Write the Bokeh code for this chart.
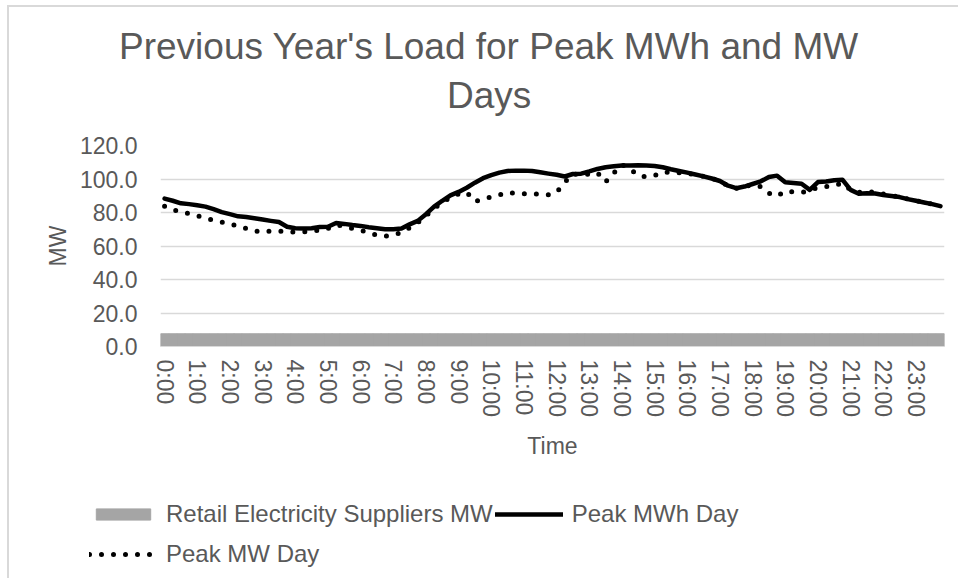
from bokeh.plotting import figure
from bokeh.models import (ColumnDataSource, Legend, LegendItem, Title, FixedTicker,
                          Range1d, PrintfTickFormatter, LinearAxis)
from bokeh.embed import file_html
from bokeh.resources import INLINE

# ---------------- data ----------------
hour_labels = ["0:00", "1:00", "2:00", "3:00", "4:00", "5:00", "6:00", "7:00",
               "8:00", "9:00", "10:00", "11:00", "12:00", "13:00", "14:00", "15:00",
               "16:00", "17:00", "18:00", "19:00", "20:00", "21:00", "22:00", "23:00"]
intervals_per_hour = 4  # 15-minute intervals

retail_mw = [7.6, 7.6, 7.6, 7.6, 7.6, 7.6, 7.6, 7.6, 7.6, 7.6, 7.6, 7.6,
             7.6, 7.6, 7.6, 7.6, 7.6, 7.6, 7.6, 7.6, 7.6, 7.6, 7.6, 7.6,
             7.6, 7.6, 7.6, 7.6, 7.6, 7.6, 7.6, 7.6, 7.6, 7.6, 7.6, 7.6,
             7.6, 7.6, 7.6, 7.6, 7.6, 7.6, 7.6, 7.6, 7.6, 7.6, 7.6, 7.6,
             7.6, 7.6, 7.6, 7.6, 7.6, 7.6, 7.6, 7.6, 7.6, 7.6, 7.6, 7.6,
             7.6, 7.6, 7.6, 7.6, 7.6, 7.6, 7.6, 7.6, 7.6, 7.6, 7.6, 7.6,
             7.6, 7.6, 7.6, 7.6, 7.6, 7.6, 7.6, 7.6, 7.6, 7.6, 7.6, 7.6,
             7.6, 7.6, 7.6, 7.6, 7.6, 7.6, 7.6, 7.6, 7.6, 7.6, 7.6, 7.6]

peak_mwh_day = [88.3, 87.0, 85.5, 85.0, 84.3, 83.5, 82.0, 80.2, 79.0, 77.7, 77.3, 76.6,
                75.8, 75.0, 74.3, 71.5, 70.6, 70.4, 70.6, 71.3, 71.5, 73.7, 73.2, 72.5,
                72.0, 71.2, 70.6, 70.0, 70.0, 70.5, 72.9, 75.0, 79.0, 83.5, 87.0, 90.2,
                92.3, 94.8, 97.8, 100.5, 102.3, 103.8, 104.8, 105.0, 105.0, 104.8, 104.0, 103.2,
                102.5, 101.5, 103.0, 103.2, 104.5, 106.0, 107.0, 107.6, 108.0, 108.0, 108.2, 108.0,
                107.8, 107.0, 105.8, 104.8, 103.8, 102.7, 101.6, 100.3, 98.8, 96.0, 94.5, 95.5,
                97.0, 98.6, 101.2, 102.0, 98.0, 97.6, 97.2, 93.5, 98.2, 98.5, 99.3, 99.6,
                93.5, 91.2, 91.5, 91.3, 90.5, 89.8, 89.2, 88.0, 87.0, 86.0, 85.0, 83.8]

peak_mw_day = [83.7, 81.5, 80.5, 79.3, 78.0, 76.8, 75.3, 74.3, 73.0, 72.0, 70.5, 69.0,
               68.3, 69.0, 69.0, 68.3, 68.3, 68.5, 68.7, 69.5, 70.5, 72.5, 72.0, 70.5,
               69.5, 68.0, 66.5, 65.8, 66.5, 68.0, 70.9, 74.0, 78.0, 82.5, 86.0, 89.0,
               91.0, 92.0, 86.6, 88.0, 89.3, 90.5, 92.0, 91.5, 91.2, 91.2, 91.0, 90.6,
               92.0, 98.0, 103.0, 102.5, 103.0, 103.8, 98.2, 103.6, 108.6, 106.0, 102.0, 101.2,
               102.0, 104.2, 104.0, 103.8, 103.2, 102.6, 101.6, 100.3, 98.8, 96.0, 94.5, 95.5,
               96.5, 95.5, 91.5, 89.8, 92.8, 92.3, 91.9, 93.2, 95.0, 95.5, 96.2, 97.5,
               93.5, 92.0, 92.5, 92.0, 91.0, 90.0, 89.3, 88.0, 87.0, 86.0, 85.0, 83.8]

y_ticks = [0, 20, 40, 60, 80, 100, 120]

# ---------------- styles ----------------
FONT = "Liberation Sans"
TXT = "#595959"
GRID = "#d9d9d9"
BAND = "#a5a5a5"
BORDER = "2px solid #d9d9d9"

# ---------------- main chart ----------------
n = len(peak_mwh_day)
src = ColumnDataSource(dict(x=list(range(n)), retail=retail_mw,
                            mwh=peak_mwh_day, mw=peak_mw_day))

p = figure(width=951, height=463, output_backend="svg", toolbar_location=None,
           x_range=Range1d(-0.5, n - 0.5), y_range=Range1d(y_ticks[0], y_ticks[-1]),
           min_border_left=151, min_border_right=16, min_border_top=138,
           min_border_bottom=124, title=None)
p.styles = {"margin-left": "7px", "margin-top": "5px",
            "border-left": BORDER, "border-top": BORDER}
p.outline_line_color = None
p.background_fill_color = "white"
p.border_fill_color = "white"

p.vbar(x="x", top="retail", bottom=0, width=1.0, source=src,
       fill_color=BAND, line_color=BAND, line_width=1)
p.line(x="x", y="mwh", source=src, line_color="black", line_width=4.5,
       line_join="round", line_cap="round")
p.line(x="x", y="mw", source=src, line_color="black", line_width=5,
       line_dash="0 12", line_cap="round", line_join="round")

# axes
p.xaxis.ticker = FixedTicker(ticks=[i * intervals_per_hour for i in range(len(hour_labels))])
p.xaxis.major_label_overrides = {i * intervals_per_hour: lab for i, lab in enumerate(hour_labels)}
p.xaxis.major_label_orientation = "vertical"
p.xaxis.major_tick_line_color = None
p.xaxis.minor_tick_line_color = None
p.xaxis.major_tick_out = 0
p.xaxis.major_tick_in = 0
p.xaxis.axis_line_color = GRID
p.xaxis.major_label_standoff = 13
p.xaxis.major_label_text_font = FONT
p.xaxis.major_label_text_font_size = "23px"
p.xaxis.major_label_text_color = TXT
p.xaxis.axis_label = "Time"
p.xaxis.axis_label_text_font = FONT
p.xaxis.axis_label_text_font_size = "23px"
p.xaxis.axis_label_text_font_style = "normal"
p.xaxis.axis_label_text_color = TXT
p.xaxis.axis_label_standoff = 13

p.yaxis.ticker = FixedTicker(ticks=y_ticks)
p.yaxis.formatter = PrintfTickFormatter(format="%.1f")
p.yaxis.axis_line_color = None
p.yaxis.major_tick_line_color = None
p.yaxis.minor_tick_line_color = None
p.yaxis.major_tick_out = 0
p.yaxis.major_tick_in = 0
p.yaxis.major_label_standoff = 23
p.yaxis.major_label_text_font = FONT
p.yaxis.major_label_text_font_size = "23px"
p.yaxis.major_label_text_color = TXT
p.yaxis.axis_label = "MW"
p.yaxis.axis_label_text_font = FONT
p.yaxis.axis_label_text_font_size = "23px"
p.yaxis.axis_label_text_font_style = "normal"
p.yaxis.axis_label_text_color = TXT
p.yaxis.axis_label_standoff = 6

p.xgrid.grid_line_color = None
p.ygrid.grid_line_color = GRID
p.ygrid.grid_line_width = 1.5

# invisible spacer between plot area and title block (one hidden tick, no label)
spacer = LinearAxis(ticker=FixedTicker(ticks=[0]), major_label_overrides={0: ""},
                    axis_line_color=None, major_tick_out=30, major_tick_in=0,
                    major_label_standoff=0, major_label_text_color=None,
                    major_tick_line_color=None, minor_tick_line_color=None)
p.add_layout(spacer, "above")

# title (two lines)
p.add_layout(Title(text="Days", align="left", offset=286.5, standoff=0,
                   text_font=FONT, text_font_size="37px", text_font_style="normal",
                   text_color=TXT), "above")
p.add_layout(Title(text="Previous Year's Load for Peak MWh and MW", align="left",
                   offset=-41.5, standoff=12, text_font=FONT, text_font_size="37px",
                   text_font_style="normal", text_color=TXT), "above")

# ---------------- legend strip (below the chart, separate root) ----------------
lg = figure(width=951, height=110, output_backend="svg", toolbar_location=None,
            x_axis_type=None, y_axis_type=None, min_border=0, title=None,
            x_range=Range1d(-0.5, n - 0.5), y_range=Range1d(1000, 1001))
lg.styles = {"margin-left": "7px", "border-left": BORDER}
lg.outline_line_color = None
lg.xgrid.grid_line_color = None
lg.ygrid.grid_line_color = None
# same series drawn out of view: only their legend swatches show
k_retail = lg.vbar(x="x", top="retail", bottom=0, width=1.0, source=src,
                   fill_color=BAND, line_color=BAND, line_width=1)
k_mwh = lg.line(x="x", y="mwh", source=src, line_color="black", line_width=4.5,
                line_cap="round")
k_mw = lg.line(x="x", y="mw", source=src, line_color="black", line_width=5,
               line_dash="0 12", line_cap="round")

legend = Legend(items=[
    LegendItem(label="Retail Electricity Suppliers MW", renderers=[k_retail]),
    LegendItem(label="Peak MWh Day", renderers=[k_mwh]),
    LegendItem(label="Peak MW Day", renderers=[k_mw]),
], orientation="horizontal", ncols=2, location=(80, 5),
    glyph_width=68, glyph_height=14, label_standoff=9, label_height=38,
    spacing=2, padding=0, margin=0, border_line_color=None,
    background_fill_alpha=0, label_text_font=FONT, label_text_font_size="24px",
    label_text_color=TXT)
lg.add_layout(legend, "center")

open("out.html", "w").write(file_html([p, lg], INLINE))
